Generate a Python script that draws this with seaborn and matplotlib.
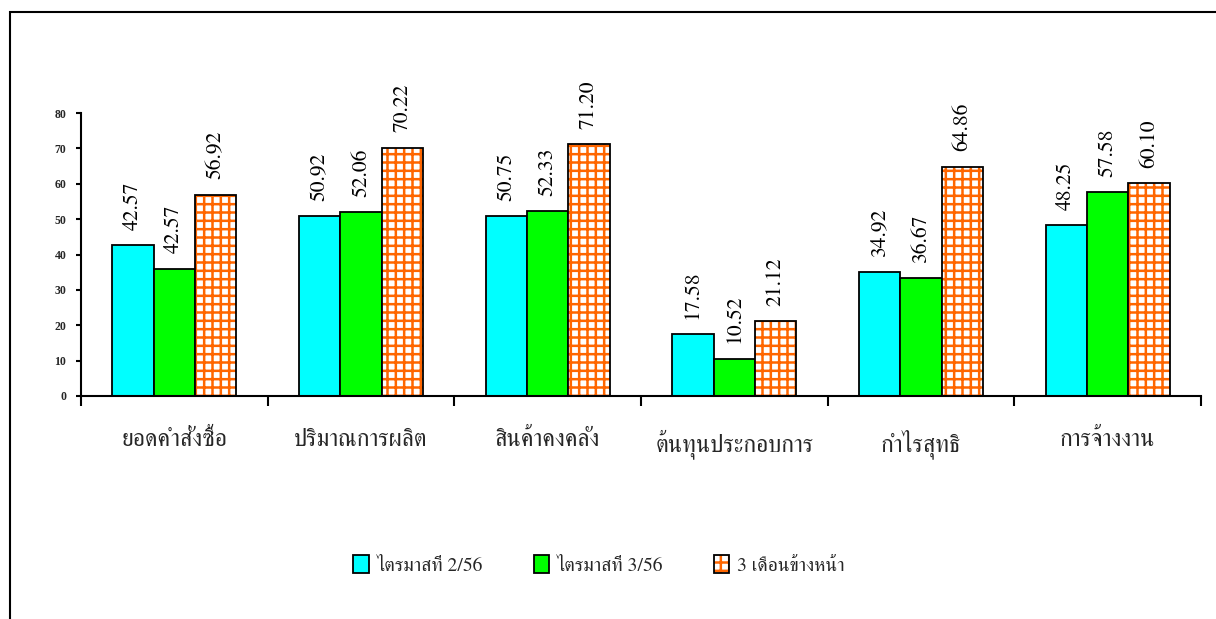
import matplotlib
matplotlib.use("Agg")
import matplotlib.pyplot as plt
from matplotlib.patches import Patch, Rectangle
import seaborn as sns
import pandas as pd

# ---- data ----
categories = ['ยอดคำสั่งซื้อ', 'ปริมาณการผลิต', 'สินค้าคงคลัง',
              'ต้นทุนประกอบการ', 'กำไรสุทธิ', 'การจ้างงาน']
series_names = ['ไตรมาสที่ 2/56', 'ไตรมาสที่ 3/56', '3 เดือนข้างหน้า']
values_q2 = [42.57, 50.92, 50.75, 17.58, 34.92, 48.25]
values_q3 = [36.0, 52.06, 52.33, 10.52, 33.4, 57.58]
values_next = [56.92, 70.22, 71.20, 21.12, 64.86, 60.10]
labels_q2 = ['42.57', '50.92', '50.75', '17.58', '34.92', '48.25']
labels_q3 = ['42.57', '52.06', '52.33', '10.52', '36.67', '57.58']
labels_next = ['56.92', '70.22', '71.20', '21.12', '64.86', '60.10']
yticks = [0, 10, 20, 30, 40, 50, 60, 70, 80]

colors = ['#00FFFF', '#00FF00', '#FFFFFF']
hatch_color = '#FF6600'

sns.set_theme(style='white')
plt.rcParams['font.family'] = ['FreeSerif', 'Liberation Serif', 'DejaVu Serif']
plt.rcParams['hatch.linewidth'] = 1.8

df = pd.DataFrame({
    'category': categories * 3,
    'series': [s for s in series_names for _ in categories],
    'value': values_q2 + values_q3 + values_next,
})

fig = plt.figure(figsize=(12.16, 6.19), dpi=100)
ax = fig.add_axes([0.0666, 0.3603, 0.9211, 0.4571])

sns.barplot(data=df, x='category', y='value', hue='series', order=categories,
            hue_order=series_names, palette=colors, width=0.665, saturation=1,
            edgecolor='black', linewidth=1.3, legend=False, ax=ax)

# hatched third series: orange grid on white with black outline
for p in ax.containers[2]:
    p.set_facecolor('white')
    p.set_edgecolor(hatch_color)
    p.set_hatch('++')
    p.set_linewidth(0)
    ax.add_patch(Rectangle((p.get_x(), p.get_y()), p.get_width(), p.get_height(),
                           fill=False, edgecolor='black', linewidth=1.3, zorder=p.get_zorder() + 0.1))

# value labels
for cont, labs in zip(ax.containers, [labels_q2, labels_q3, labels_next]):
    for p, lab in zip(cont, labs):
        ax.annotate(lab, (p.get_x() + p.get_width() / 2, p.get_height()),
                    xytext=(0, 11), textcoords='offset points', rotation=90,
                    ha='center', va='bottom', fontsize=15.5, color='black')

ax.set_ylim(0, 80)
ax.set_xlim(-0.5, len(categories) - 0.5)
ax.set_yticks(yticks)
ax.set_yticklabels([str(v) for v in yticks], fontsize=8.5, fontweight='bold',
                   family=['Liberation Serif', 'FreeSerif'])
ax.tick_params(axis='y', direction='out', length=3.5, width=1.5, pad=7, left=True, color='black')
ax.tick_params(axis='x', which='major', length=0, pad=24, labelsize=17)
ax.set_xticks([i - 0.5 for i in range(len(categories) + 1)], minor=True)
ax.tick_params(axis='x', which='minor', direction='out', length=7, width=1.5, bottom=True, color='black')
ax.set_xlabel('')
ax.set_ylabel('')
for side in ['top', 'right']:
    ax.spines[side].set_visible(False)
for side in ['left', 'bottom']:
    ax.spines[side].set_linewidth(1.5)
    ax.spines[side].set_color('black')

# legend
handles = [
    Patch(facecolor=colors[0], edgecolor='black', linewidth=1.3),
    Patch(facecolor=colors[1], edgecolor='black', linewidth=1.3),
    (Patch(facecolor='white', edgecolor=hatch_color, hatch='++', linewidth=0),
     Patch(fill=False, edgecolor='black', linewidth=1.3)),
]
fig.legend(handles, series_names, loc='center', bbox_to_anchor=(0.4926, 0.087),
           ncol=3, frameon=False, fontsize=14, handlelength=0.8, handleheight=1.05,
           handletextpad=0.4, columnspacing=2.6)

# outer frame
fig.add_artist(Rectangle((9.5 / 1216, -0.1), 1.2, 0.1 + 1 - 12.5 / 619, transform=fig.transFigure,
                         fill=False, edgecolor='black', linewidth=1.5, clip_on=False))

fig.savefig('out.png', dpi=100)
